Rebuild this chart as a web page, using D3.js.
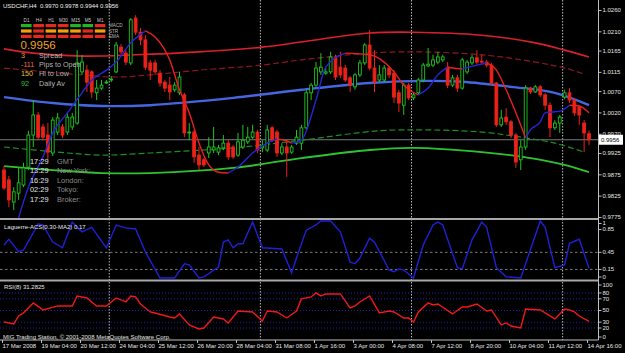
<!DOCTYPE html>
<html>
<head>
<meta charset="utf-8">
<script src="https://cdn.jsdelivr.net/npm/d3@7"></script>
<style>
html, body { margin: 0; padding: 0; background: #000; }
svg { display: block; font-family: "Liberation Sans", Arial, sans-serif; }
</style>
</head>
<body>
<div id="chart"></div>
<script>
// ---- data ----
var symbolName = 'USDCHF';
var periodName = 'H4';

var timeLabels = ['17 Mar 2008', '19 Mar 04:00', '20 Mar 12:00', '24 Mar 04:00', '25 Mar 12:00', '26 Mar 20:00',
    '28 Mar 04:00', '31 Mar 08:00', '1 Apr 16:00', '3 Apr 00:00', '4 Apr 08:00', '7 Apr 12:00',
    '8 Apr 20:00', '10 Apr 04:00', '11 Apr 12:00', '14 Apr 16:00'];

var barOpen = [.9885,.9862,.9810,.9831,.9850,.9892,.9967,1.0014,.9986,.9967,
    .9925,.9974,.9986,.9974,.9986,.9995,1.0115,1.0119,1.0115,1.0066,
    1.0077,1.0089,1.0096,1.0115,1.0173,1.0159,1.0136,1.0241,1.0208,1.0190,
    1.0136,1.0136,1.0112,1.0091,1.0084,1.0073,1.0066,1.0061,.9972,.9974,
    .9920,.9909,.9925,.9932,.9927,.9937,.9948,.9939,.9920,.9939,
    .9951,.9962,.9974,.9937,.9932,.9984,.9974,.9925,.9939,.9927,
    .9948,.9948,.9984,1.0066,1.0084,1.0115,1.0112,1.0115,1.0150,1.0126,
    1.0124,1.0101,1.0080,1.0108,1.0136,1.0178,1.0124,1.0096,1.0096,1.0124,
    1.0112,1.0066,1.0037,1.0084,1.0054,1.0066,1.0096,1.0129,1.0131,1.0138,
    1.0143,1.0126,1.0084,1.0101,1.0077,1.0115,1.0136,1.0148,1.0140,1.0138,
    1.0131,1.0089,.9991,1.0009,.9998,.9967,.9909,.9939,1.0077,1.0068,
    1.0080,1.0061,1.0037,.9984,.9995,1.0056,1.0066,1.0049,1.0033,.9995,
    .9970];
var barHigh = [.9894,.9871,.9845,.9890,.9902,.9977,1.0049,1.0021,.9993,.9995,
    1.0009,1.0019,.9993,1.0019,1.0019,1.0166,1.0155,1.0131,1.0119,1.0096,
    1.0096,1.0096,1.0105,1.0185,1.0180,1.0166,1.0241,1.0248,1.0218,1.0201,
    1.0143,1.0143,1.0119,1.0096,1.0103,1.0091,1.0115,1.0066,.9995,.9979,
    .9939,.9913,.9962,.9986,.9944,.9967,.9955,.9944,.9972,.9991,
    .9986,.9991,.9979,.9955,.9991,.9988,.9979,.9948,.9955,.9944,
    .9979,.9991,1.0073,1.0089,1.0138,1.0159,1.0124,1.0162,1.0155,1.0162,
    1.0131,1.0105,1.0112,1.0143,1.0183,1.0213,1.0166,1.0131,1.0131,1.0129,
    1.0119,1.0073,1.0089,1.0089,1.0066,1.0101,1.0136,1.0171,1.0155,1.0162,
    1.0155,1.0138,1.0108,1.0108,1.0148,1.0143,1.0155,1.0166,1.0155,1.0143,
    1.0136,1.0091,1.0026,1.0030,1.0002,.9972,.9955,1.0084,1.0080,1.0084,
    1.0084,1.0066,1.0044,1.0002,1.0014,1.0073,1.0077,1.0054,1.0037,1.0002,
    .9978];
var barLow = [.9838,.9798,.9791,.9815,.9845,.9885,.9939,.9955,.9955,.9909,
    .9918,.9967,.9960,.9967,.9979,.9991,1.0108,1.0068,1.0054,1.0049,
    1.0073,1.0087,1.0091,1.0112,1.0157,1.0131,1.0131,1.0201,1.0178,1.0119,
    1.0096,1.0108,1.0080,1.0068,1.0049,1.0068,1.0061,.9962,.9955,.9902,
    .9885,.9892,.9913,.9925,.9920,.9932,.9909,.9911,.9916,.9934,
    .9946,.9958,.9925,.9927,.9927,.9951,.9916,.9920,.9869,.9923,
    .9944,.9932,.9979,1.0049,1.0080,1.0108,1.0108,1.0110,1.0096,1.0101,
    1.0091,1.0068,1.0073,1.0103,1.0131,1.0119,1.0068,1.0091,1.0091,1.0101,
    1.0042,1.0021,1.0014,1.0049,1.0049,1.0061,1.0091,1.0126,1.0126,1.0133,
    1.0138,1.0077,1.0080,1.0068,1.0073,1.0110,1.0131,1.0133,1.0133,1.0126,
    1.0084,.9986,.9986,.9991,.9960,.9890,.9885,.9932,1.0063,1.0066,
    1.0056,1.0026,.9962,.9979,.9972,1.0051,1.0042,1.0012,.9991,.9927,
    .9944];
var barClose = [.9843,.9815,.9834,.9855,.9890,.9967,1.0014,.9962,.9962,.9927,
    1.0002,1.0007,.9967,1.0009,1.0009,1.0136,1.0138,1.0091,1.0068,1.0077,
    1.0084,1.0091,1.0098,1.0178,1.0162,1.0138,1.0237,1.0208,1.0190,1.0126,
    1.0119,1.0115,1.0089,1.0077,1.0068,1.0084,1.0103,.9972,.9974,.9916,
    .9897,.9897,.9939,.9939,.9937,.9948,.9916,.9916,.9951,.9955,
    .9962,.9974,.9932,.9941,.9979,.9955,.9925,.9939,.9925,.9939,
    .9962,.9984,1.0066,1.0084,1.0124,1.0126,1.0115,1.0150,1.0103,1.0108,
    1.0096,1.0084,1.0108,1.0136,1.0178,1.0124,1.0091,1.0108,1.0124,1.0108,
    1.0056,1.0042,1.0084,1.0054,1.0061,1.0096,1.0131,1.0133,1.0143,1.0150,
    1.0150,1.0084,1.0101,1.0077,1.0143,1.0138,1.0148,1.0138,1.0138,1.0131,
    1.0089,.9991,1.0007,.9998,.9967,.9904,.9939,1.0077,1.0068,1.0080,
    1.0061,1.0037,.9984,.9995,1.0009,1.0066,1.0049,1.0019,1.0014,.9972,
    .9956];

// envelope bands, [bar index, price]
var upperBand = [[0,1.0169],[6,1.0159],[16,1.0152],[27,1.0155],[40,1.0162],[53,1.0173],[61,1.0185],
    [75,1.0206],[84,1.0208],[98,1.0201],[109,1.0183],[115,1.0166],[120,1.0150]];
var upperInner = [[0,1.0124],[16,1.0108],[23,1.0103],[30,1.0108],[40,1.0119],[53,1.0131],[61,1.0143],
    [75,1.0159],[84,1.0162],[98,1.0155],[109,1.0138],[115,1.0124],[119,1.0110]];
var midBand = [[0,1.0056],[10,1.0042],[20,1.0035],[30,1.0037],[47,1.0054],[61,1.0073],[75,1.0089],
    [87,1.0094],[94,1.0092],[104,1.0080],[113,1.0066],[120,1.0037]];
var lowerInner = [[0,.9939],[13,.9925],[20,.9920],[30,.9925],[47,.9937],[61,.9955],[77,.9977],
    [87,.9979],[98,.9974],[106,.9962],[113,.9948],[119,.9927]];
var lowerBand = [[0,.9894],[10,.9885],[20,.9878],[30,.9878],[47,.9890],[61,.9913],[75,.9932],
    [84,.9937],[98,.9927],[108,.9913],[115,.9897],[120,.9880]];

// fast MA, blue while rising, red while falling
var fastLine = [[3,.9773],[5,.9845],[8,.9916],[10,.9972],[13,1.0019],[16,1.0066],[18,1.0096],[21,1.0119],
    [23,1.0138],[26,1.0183],[29,1.0211],[31,1.0197],[34,1.0143],[36,1.0073],[38,1.0019],[40,.9948],
    [42,.9897],[44,.9880],[46,.9878],[48,.9892],[51,.9925],[54,.9948],[56,.9958],[58,.9953],[59,.9948],
    [61,.9955],[64,1.0049],[66,1.0126],[70,1.0159],[75,1.0155],[80,1.0115],[82,1.0084],[85,1.0061],
    [87,1.0077],[89,1.0108],[91,1.0126],[92,1.0124],[94,1.0122],[97,1.0131],[99,1.0136],[101,1.0119],
    [103,1.0073],[105,1.0019],[107,.9960],[108,.9979],[110,.9998],[111,1.0019],[114,1.0023],[116,1.0037],
    [118,1.0035],[120,1.0019]];

var laguerre = [[0,.58],[1,.68],[3,.46],[4,.49],[6,.79],[7,.95],[8,.93],[10,.63],[12,.53],[14,.98],[16,.81],
    [18,.89],[21,.53],[23,.93],[25,.88],[27,.86],[29,.46],[32,0],[35,0],[37,.25],[38,.23],[40,0],[41,.02],
    [44,.19],[45,.63],[46,.67],[47,.53],[48,.6],[49,.6],[51,.98],[53,.53],[57,.51],[59,.09],[60,.35],
    [62,.84],[64,.93],[65,1],[67,1],[69,.81],[71,.28],[72,.25],[73,.35],[75,.7],[76,.63],[79,.14],[80,.11],
    [81,.16],[82,.14],[84,0],[86,.58],[88,.93],[89,.98],[90,.93],[93,.18],[94,.16],[96,.67],[98,.98],
    [99,.89],[101,.18],[103,.02],[106,0],[110,1],[111,.89],[113,.18],[115,.23],[116,.61],[118,.68],[120,.17]];

var rsi = [[0,30.3],[2,27],[3,40.6],[4,45.8],[6,63],[8,51],[11,57.8],[14,57.8],[15,74.9],[17,71.5],[19,57.8],
    [21,57.8],[23,71.5],[25,64.6],[26,74.9],[27,73.2],[28,61.2],[30,47.5],[31,45.8],[34,38.9],[35,37.2],
    [36,44.1],[38,25.2],[40,18.3],[41,20],[43,38.9],[45,35.5],[46,28.7],[48,49.2],[51,47.5],[53,32],
    [54,49.2],[56,47.5],[58,37.2],[60,49.2],[61,69.8],[63,73.2],[64,80.1],[65,74.9],[66,78.3],[69,78.3],
    [71,54.3],[72,57.8],[73,64.6],[75,74.9],[77,45.8],[79,49.2],[80,47.5],[82,37.2],[83,37.2],[84,30.3],
    [85,47.5],[87,63],[88,59.5],[89,61.2],[92,44.1],[94,56],[95,56],[97,61.2],[99,49.2],[100,50.9],
    [102,25.2],[103,28.7],[104,23.5],[105,21.8],[106,20],[107,52.6],[110,50.9],[111,45.8],[113,35.5],
    [115,52.6],[116,50.9],[117,47.5],[118,40.6],[120,31.28]];

var priceTicks = [1.0260, 1.0210, 1.0165, 1.0115, 1.0070, 1.0020, 0.9970, 0.9925, 0.9875, 0.9825, 0.9775];
var lagTicks = [1, 0.85, 0.45, 0.15, 0];
var lagLevels = [0.45, 0.15];
var rsiTicks = [100, 80, 70, 50, 30, 20, 0];
var rsiLevels = [80, 70, 50, 30, 20];
var separatorBars = [22, 53, 84, 115];

// dashboard in the corner
var tfNames = ['D1', 'H4', 'H1', 'M30', 'M15', 'M5', 'M1'];
var signalRows = ['MACD', 'STR', 'EMA'];
var signalStates = [
    ['up', 'down', 'down', 'down', 'up', 'up', 'down'],
    ['mid', 'down', 'mid', 'mid', 'mid', 'down', 'mid'],
    ['down', 'down', 'down', 'down', 'down', 'down', 'down']
];
var infoValues = ['3', '-111', '150', '92'];
var infoLabels = ['Spread', 'Pips to Open', 'Hi to Low', 'Daily Av'];
var clockTimes = ['17:29', '13:29', '16:29', '02:29', '17:29'];
var clockZones = ['GMT', 'New York:', 'London:', 'Tokyo:', 'Broker:'];
var lagName = 'Laguerre-ACS(0.30-MA2)';
var rsiName = 'RSI(8)';
var rsiLast = 31.2825;
var copyright = 'MIG Trading Station, \u00a9 2001-2008 MetaQuotes Software Corp.';

// ---- layout ----
var width = 625, height = 353;
var plotRight = 598.5;
var mainTop = 0, mainBottom = 218.5;
var lagTop = 219.5, lagBottom = 280;
var rsiTop = 281, rsiBottom = 340;

var bull = '#1fc41f', bear = '#ec2218';

var svg = d3.select('#chart').append('svg')
    .attr('width', width)
    .attr('height', height);

svg.append('rect').attr('width', width).attr('height', height).attr('fill', '#000');

var x = d3.scaleLinear().domain([0, 120]).range([4, 589]);
var yMain = d3.scaleLinear().domain([0.9775, 1.0260]).range([217, 10]);
var yLag = d3.scaleLinear().domain([0, 1]).range([278, 221]);
var yRsi = d3.scaleLinear().domain([0, 100]).range([339.7, 281.3]);

var defs = svg.append('defs');
[['clipMain', mainTop, mainBottom], ['clipLag', lagTop, lagBottom], ['clipRsi', rsiTop, rsiBottom]].forEach(function(c) {
    defs.append('clipPath').attr('id', c[0])
        .append('rect').attr('x', 0).attr('y', c[1]).attr('width', plotRight).attr('height', c[2] - c[1]);
});

// period separators
svg.selectAll('.sep')
    .data(separatorBars)
    .enter().append('line')
    .attr('class', 'sep')
    .attr('x1', function(d) { return x(d) - 2; })
    .attr('x2', function(d) { return x(d) - 2; })
    .attr('y1', 0).attr('y2', rsiBottom)
    .attr('stroke', '#d0d0d0')
    .attr('stroke-width', 0.9)
    .attr('stroke-dasharray', '1.5,1.5');

// ---- main panel ----
var main = svg.append('g').attr('clip-path', 'url(#clipMain)');

// bid line
main.append('line')
    .attr('x1', 0).attr('x2', plotRight)
    .attr('y1', yMain(barClose[120])).attr('y2', yMain(barClose[120]))
    .attr('stroke', '#737a7e').attr('stroke-width', 1);

var bandLine = d3.line()
    .x(function(d) { return x(d[0]); })
    .y(function(d) { return yMain(d[1]); })
    .curve(d3.curveCatmullRom.alpha(0.5));

var bands = [
    { pts: upperBand, color: '#d8202c', w: 1.6, dash: null },
    { pts: upperInner, color: '#8c1626', w: 1.2, dash: '6,3' },
    { pts: midBand, color: '#4466e0', w: 2.4, dash: null },
    { pts: lowerInner, color: '#1f8f1f', w: 1.2, dash: '6,3' },
    { pts: lowerBand, color: '#2fc42f', w: 1.8, dash: null }
];

main.selectAll('.band')
    .data(bands)
    .enter().append('path')
    .attr('class', 'band')
    .attr('d', function(d) { return bandLine(d.pts); })
    .attr('fill', 'none')
    .attr('stroke', function(d) { return d.color; })
    .attr('stroke-width', function(d) { return d.w; })
    .attr('stroke-dasharray', function(d) { return d.dash; });

// candles
var bars = d3.range(barOpen.length).map(function(i) {
    return { i: i, o: barOpen[i], h: barHigh[i], l: barLow[i], c: barClose[i] };
});

main.selectAll('.wick')
    .data(bars)
    .enter().append('line')
    .attr('class', 'wick')
    .attr('x1', function(d) { return x(d.i); })
    .attr('x2', function(d) { return x(d.i); })
    .attr('y1', function(d) { return yMain(d.h); })
    .attr('y2', function(d) { return yMain(d.l); })
    .attr('stroke', function(d) { return d.c >= d.o ? bull : bear; })
    .attr('stroke-width', 1);

main.selectAll('.body')
    .data(bars)
    .enter().append('rect')
    .attr('class', 'body')
    .attr('x', function(d) { return x(d.i) - 1.4; })
    .attr('width', 2.8)
    .attr('y', function(d) { return yMain(Math.max(d.o, d.c)); })
    .attr('height', function(d) { return Math.max(0.8, Math.abs(yMain(d.o) - yMain(d.c))); })
    .attr('fill', function(d) { return d.c >= d.o ? '#000' : bear; })
    .attr('stroke', function(d) { return d.c >= d.o ? bull : bear; })
    .attr('stroke-width', 0.9);

// fast line split into rising / falling runs
var runs = [];
fastLine.forEach(function(d, i) {
    if (i === 0) return;
    var up = d[1] >= fastLine[i - 1][1];
    var last = runs[runs.length - 1];
    if (last && last.up === up) last.pts.push(d);
    else runs.push({ up: up, pts: [fastLine[i - 1], d] });
});

var fastPath = d3.line()
    .x(function(d) { return x(d[0]); })
    .y(function(d) { return yMain(d[1]); })
    .curve(d3.curveMonotoneX);

main.selectAll('.fast')
    .data(runs)
    .enter().append('path')
    .attr('class', 'fast')
    .attr('d', function(d) { return fastPath(d.pts); })
    .attr('fill', 'none')
    .attr('stroke', function(d) { return d.up ? '#2626d8' : '#e82020'; })
    .attr('stroke-width', 1.4);

// ---- laguerre panel ----
var lag = svg.append('g').attr('clip-path', 'url(#clipLag)');

lag.selectAll('.lvl')
    .data(lagLevels)
    .enter().append('line')
    .attr('x1', 0).attr('x2', plotRight)
    .attr('y1', function(d) { return yLag(d); })
    .attr('y2', function(d) { return yLag(d); })
    .attr('stroke', '#9a9a9a')
    .attr('stroke-width', 0.8)
    .attr('stroke-dasharray', '2.5,2.5');

lag.append('path')
    .attr('d', d3.line().x(function(d) { return x(d[0]); }).y(function(d) { return yLag(d[1]); })(laguerre))
    .attr('fill', 'none')
    .attr('stroke', '#2020d6')
    .attr('stroke-width', 1.4);

// ---- rsi panel ----
var rsiG = svg.append('g').attr('clip-path', 'url(#clipRsi)');

rsiG.selectAll('.lvl')
    .data(rsiLevels)
    .enter().append('line')
    .attr('x1', 0).attr('x2', plotRight)
    .attr('y1', function(d) { return yRsi(d); })
    .attr('y2', function(d) { return yRsi(d); })
    .attr('stroke', '#2a2ae0')
    .attr('stroke-width', 0.8)
    .attr('stroke-dasharray', '1,2');

rsiG.append('path')
    .attr('d', d3.line().x(function(d) { return x(d[0]); }).y(function(d) { return yRsi(d[1]); })(rsi))
    .attr('fill', 'none')
    .attr('stroke', '#f01818')
    .attr('stroke-width', 1.4);

// ---- frame ----
[lagTop - 0.5, rsiTop - 0.5].forEach(function(yy) {
    svg.append('line')
        .attr('x1', 0).attr('x2', plotRight).attr('y1', yy).attr('y2', yy)
        .attr('stroke', '#a8a8a8').attr('stroke-width', 2);
});
svg.append('line')
    .attr('x1', 0).attr('x2', plotRight).attr('y1', rsiBottom).attr('y2', rsiBottom)
    .attr('stroke', '#c0c0c0').attr('stroke-width', 1);
svg.append('line')
    .attr('x1', plotRight).attr('x2', plotRight).attr('y1', 0).attr('y2', rsiBottom)
    .attr('stroke', '#c0c0c0').attr('stroke-width', 1);

// ---- axes ----
function styleAxis(g) {
    g.select('.domain').remove();
    g.selectAll('.tick line').attr('stroke', '#c0c0c0');
    g.selectAll('.tick text').attr('fill', '#e6e6e6').style('font-size', '6px')
        .style('font-family', '"Liberation Sans", Arial, sans-serif');
}

var priceAxis = svg.append('g')
    .attr('transform', 'translate(' + plotRight + ',0)')
    .call(d3.axisRight(yMain).tickValues(priceTicks).tickSize(3).tickPadding(1).tickFormat(d3.format('.4f')));
styleAxis(priceAxis);

function clampAxis(scale, ticks, fmt, top, bottom) {
    var g = svg.append('g')
        .attr('transform', 'translate(' + plotRight + ',0)')
        .call(d3.axisRight(scale).tickValues(ticks).tickSize(3).tickPadding(1).tickFormat(fmt));
    styleAxis(g);
    g.selectAll('.tick').attr('transform', function(d) {
        return 'translate(0,' + Math.max(top + 4, Math.min(bottom - 3, scale(d))) + ')';
    });
    return g;
}
clampAxis(yLag, lagTicks, function(d) { return String(d); }, lagTop, lagBottom);
clampAxis(yRsi, rsiTicks, function(d) { return String(d); }, rsiTop, rsiBottom);

var timeAxis = svg.append('g')
    .attr('transform', 'translate(0,' + rsiBottom + ')')
    .call(d3.axisBottom(x).tickValues(d3.range(0, 121, 8)).tickSize(3).tickPadding(1)
        .tickFormat(function(d, i) { return timeLabels[i]; }));
styleAxis(timeAxis);
timeAxis.selectAll('.tick line').attr('transform', 'translate(-2,0)');
timeAxis.selectAll('.tick text').attr('text-anchor', 'start').attr('x', -2);

// current price box
var bidY = yMain(barClose[120]);
svg.append('rect')
    .attr('x', plotRight + 0.5).attr('y', bidY - 5).attr('width', 24).attr('height', 10)
    .attr('fill', '#fff');
svg.append('text')
    .attr('x', plotRight + 2.5).attr('y', bidY + 2.2)
    .attr('fill', '#000').style('font-size', '6px')
    .text(d3.format('.4f')(barClose[120]));

// ---- overlay texts ----
var f4 = d3.format('.4f');
svg.append('text')
    .attr('x', 3).attr('y', 8)
    .attr('fill', '#f0f0f0').style('font-size', '6px')
    .attr('xml:space', 'preserve')
    .text(symbolName + ',' + periodName + '  ' + f4(barOpen[120]) + ' ' + f4(barHigh[120]) + ' ' +
        f4(barLow[120]) + ' ' + f4(barClose[120]));

svg.selectAll('.tf')
    .data(tfNames)
    .enter().append('text')
    .attr('x', function(d, i) { return 26.5 + i * 12.3; })
    .attr('y', 21.5)
    .attr('text-anchor', 'middle')
    .attr('fill', '#c8c8c8').style('font-size', '4.6px')
    .text(function(d) { return d; });

var stateColor = { up: '#22b422', down: '#e42a1e', mid: '#f2a10a' };
signalStates.forEach(function(row, r) {
    svg.selectAll('.sig' + r)
        .data(row)
        .enter().append('rect')
        .attr('x', function(d, i) { return 21 + i * 12.3; })
        .attr('y', 24 + r * 5.4)
        .attr('width', 10.6).attr('height', 3.2)
        .attr('fill', function(d) { return stateColor[d]; });
    svg.append('text')
        .attr('x', 109).attr('y', 27.3 + r * 5.4)
        .attr('fill', '#b8b8b8').style('font-size', '4.6px')
        .text(signalRows[r]);
});

svg.append('text')
    .attr('x', 20.5).attr('y', 48.8)
    .attr('fill', '#f0a22a').style('font-size', '11.5px')
    .text(f4(barClose[120]));

var infoColors = ['#f0a22a', '#ef6a4a', '#e3c040', '#3cc03c'];
infoValues.forEach(function(v, i) {
    svg.append('text')
        .attr('x', 21).attr('y', 58.2 + i * 9.1)
        .attr('fill', infoColors[i]).style('font-size', '7.2px')
        .text(v);
    svg.append('text')
        .attr('x', 39).attr('y', 58.2 + i * 9.1)
        .attr('fill', '#b4b4b4').style('font-size', '7.2px')
        .text(infoLabels[i]);
});

clockTimes.forEach(function(t, i) {
    svg.append('text')
        .attr('x', 30).attr('y', 164 + i * 9.4)
        .attr('fill', '#e4e4e4').style('font-size', '7.4px')
        .text(t);
    svg.append('text')
        .attr('x', 57).attr('y', 164 + i * 9.4)
        .attr('fill', '#8c8c8c').style('font-size', '7.4px')
        .text(clockZones[i]);
});

svg.append('text')
    .attr('x', 4).attr('y', 229)
    .attr('fill', '#e6e6e6').style('font-size', '6px')
    .text(lagName + ' ' + laguerre[laguerre.length - 1][1]);

svg.append('text')
    .attr('x', 4).attr('y', 289)
    .attr('fill', '#e6e6e6').style('font-size', '6px')
    .text(rsiName + ' ' + rsiLast);

svg.append('text')
    .attr('x', 3).attr('y', 338.5)
    .attr('fill', '#e6e6e6').style('font-size', '6px')
    .text(copyright);
</script>
</body>
</html>
